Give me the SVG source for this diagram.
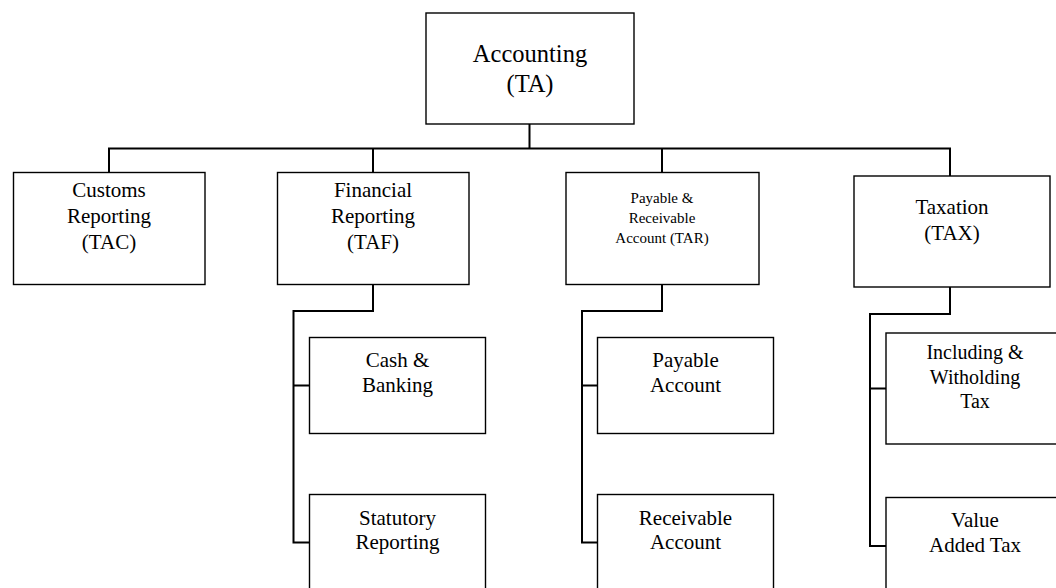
<svg xmlns="http://www.w3.org/2000/svg" width="1056" height="588" viewBox="0 0 1056 588">
<style>
.box{fill:#fff;stroke:#000;stroke-width:1.4}
.t{font-family:"Liberation Serif","Times New Roman",serif;fill:#000;text-anchor:middle;font-size:21px}
.big{font-size:24.5px}
.sm{font-size:15px}
.m{font-size:20px}
.c{fill:none;stroke:#000;stroke-width:2}
</style>
<rect width="1056" height="588" fill="#fff"/>
<g id="connectors">
<path class="c" d="M529.5 124V148.5M109 172V148.5H950V176M373 148.5V172M662 148.5V172"/>
<path class="c" d="M373 284V311H293.5V542.5H309.5M293.5 385.5H309.5"/>
<path class="c" d="M662 284V311H582V542.5H597.5M582 385.5H597.5"/>
<path class="c" d="M950 287V314H870V546H886M870 388.5H886"/>
</g>
<g id="TA"><rect class="box" x="426" y="13" width="208" height="111"/><text class="t big" x="530" y="62">Accounting</text><text class="t big" x="530" y="92">(TA)</text></g>
<g id="TAC"><rect class="box" x="13.5" y="172.5" width="191.5" height="112"/><text class="t" x="109" y="197">Customs</text><text class="t" x="109" y="223">Reporting</text><text class="t" x="109" y="249">(TAC)</text></g>
<g id="TAF"><rect class="box" x="277.5" y="172.5" width="191.5" height="112"/><text class="t" x="373" y="197">Financial</text><text class="t" x="373" y="223">Reporting</text><text class="t" x="373" y="249">(TAF)</text></g>
<g id="TAR"><rect class="box" x="566" y="172.5" width="193" height="112"/><text class="t sm" x="662" y="203">Payable &amp;</text><text class="t sm" x="662" y="223">Receivable</text><text class="t sm" x="662" y="243">Account (TAR)</text></g>
<g id="TAX"><rect class="box" x="854" y="176" width="196" height="111"/><text class="t" x="952" y="214">Taxation</text><text class="t" x="952" y="240">(TAX)</text></g>
<g id="cash"><rect class="box" x="309.5" y="337.5" width="176" height="96"/><text class="t" x="397.5" y="367">Cash &amp;</text><text class="t" x="397.5" y="392">Banking</text></g>
<g id="statutory"><rect class="box" x="309.5" y="494.5" width="176" height="110"/><text class="t" x="397.5" y="525">Statutory</text><text class="t" x="397.5" y="549">Reporting</text></g>
<g id="payable"><rect class="box" x="597.5" y="337.5" width="176" height="96"/><text class="t" x="685.5" y="367">Payable</text><text class="t" x="685.5" y="392">Account</text></g>
<g id="receivable"><rect class="box" x="597.5" y="494.5" width="176" height="110"/><text class="t" x="685.5" y="525">Receivable</text><text class="t" x="685.5" y="549">Account</text></g>
<g id="withholding"><rect class="box" x="886" y="333" width="180" height="111"/><text class="t m" x="975" y="359">Including &amp;</text><text class="t m" x="975" y="384">Witholding</text><text class="t m" x="975" y="408">Tax</text></g>
<g id="vat"><rect class="box" x="886" y="497.5" width="180" height="110"/><text class="t" x="975" y="527">Value</text><text class="t" x="975" y="552">Added Tax</text></g>
</svg>
